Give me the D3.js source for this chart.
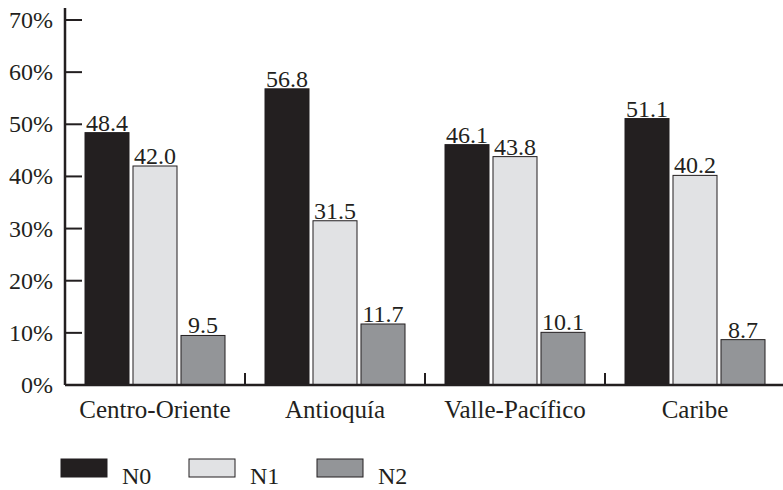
<!DOCTYPE html>
<html>
<head>
<meta charset="utf-8">
<script src="https://cdn.jsdelivr.net/npm/d3@7"></script>
<style>
  body { margin: 0; background: #fff; }
</style>
</head>
<body>
<svg id="chart" width="783" height="490" font-family="'Liberation Serif', 'DejaVu Serif', serif"></svg>
<script>
const regions = ['Centro-Oriente', 'Antioquía', 'Valle-Pacífico', 'Caribe'];
const levels = ['N0', 'N1', 'N2'];
const n0 = [48.4, 56.8, 46.1, 51.1];
const n1 = [42.0, 31.5, 43.8, 40.2];
const n2 = [9.5, 11.7, 10.1, 8.7];
const yTicks = [0, 10, 20, 30, 40, 50, 60, 70];
const colours = ['#231f20', '#e1e2e4', '#939598'];

const svg = d3.select('#chart');
const ink = '#231f20';

const series = [n0, n1, n2];
const rows = regions.map((r, i) => ({ region: r, values: levels.map((l, j) => ({ level: l, value: series[j][i] })) }));

const y = d3.scaleLinear().domain([0, 70]).range([385, 20]);
const x = d3.scaleBand().domain(regions).range([65, 785]);
const xInner = d3.scaleBand().domain(levels).range([20, 160]).paddingInner(0.0833);
const colour = d3.scaleOrdinal().domain(levels).range(colours);

// y axis
const yAxis = svg.append('g').attr('transform', 'translate(65,0)');
yAxis.append('line').attr('y1', 8).attr('y2', y(0)).attr('stroke', ink).attr('stroke-width', 2.5);
yAxis.selectAll('line.tick').data(yTicks.slice(1)).enter().append('line')
  .attr('class', 'tick')
  .attr('x1', 0).attr('x2', 17)
  .attr('y1', d => y(d)).attr('y2', d => y(d))
  .attr('stroke', ink).attr('stroke-width', 2);
yAxis.selectAll('text').data(yTicks).enter().append('text')
  .attr('x', -12).attr('y', d => y(d) + 8)
  .attr('text-anchor', 'end')
  .attr('fill', ink)
  .style('font-size', '24px')
  .text(d => d + '%');

// bars
const groups = svg.selectAll('g.region').data(rows).enter().append('g')
  .attr('class', 'region')
  .attr('transform', d => `translate(${x(d.region)},0)`);

groups.selectAll('rect').data(d => d.values).enter().append('rect')
  .attr('x', d => xInner(d.level))
  .attr('y', d => y(d.value))
  .attr('width', xInner.bandwidth())
  .attr('height', d => y(0) - y(d.value))
  .attr('fill', d => colour(d.level))
  .attr('stroke', ink).attr('stroke-width', 1);

groups.selectAll('text.value').data(d => d.values).enter().append('text')
  .attr('class', 'value')
  .attr('x', d => xInner(d.level) + xInner.bandwidth() / 2)
  .attr('y', d => y(d.value) - 2)
  .attr('text-anchor', 'middle')
  .attr('fill', ink)
  .style('font-size', '24px')
  .text(d => d.value.toFixed(1));

// x axis
svg.append('line').attr('x1', 65).attr('x2', 783).attr('y1', y(0)).attr('y2', y(0))
  .attr('stroke', ink).attr('stroke-width', 2.5);
svg.selectAll('line.sep').data(regions.slice(1)).enter().append('line')
  .attr('class', 'sep')
  .attr('x1', d => x(d)).attr('x2', d => x(d))
  .attr('y1', y(0) - 12).attr('y2', y(0))
  .attr('stroke', ink).attr('stroke-width', 2);
svg.selectAll('text.cat').data(regions).enter().append('text')
  .attr('class', 'cat')
  .attr('x', d => x(d) + x.bandwidth() / 2)
  .attr('y', 418)
  .attr('text-anchor', 'middle')
  .attr('fill', ink)
  .style('font-size', '25px')
  .text(d => d);

// legend
const legend = svg.selectAll('g.legend').data(levels).enter().append('g')
  .attr('class', 'legend')
  .attr('transform', (d, i) => `translate(${61 + i * 128},459)`);
legend.append('rect').attr('width', 46).attr('height', 18)
  .attr('fill', d => colour(d)).attr('stroke', ink).attr('stroke-width', 1);
legend.append('text').attr('x', 61).attr('y', 25)
  .attr('fill', ink)
  .style('font-size', '24px').text(d => d);
</script>
</body>
</html>
